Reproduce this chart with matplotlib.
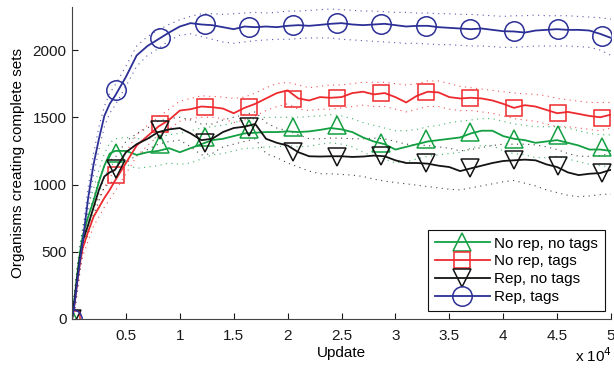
import matplotlib

matplotlib.use("Agg")
import matplotlib.pyplot as plt
from matplotlib.lines import Line2D

plt.rcParams["font.family"] = ["Liberation Sans", "DejaVu Sans"]

# sampling grid (updates)
updates = [0, 250, 500, 750, 1000, 1500, 2000, 2500, 3000, 3500] + list(range(4000, 50001, 1000))

# No rep, no tags
green_mean = [0, 160, 340, 500, 620, 760, 880, 1020, 1140, 1230,
              1250, 1250, 1220, 1240, 1250, 1270, 1240, 1270, 1300, 1330,
              1340, 1360, 1380, 1385, 1390, 1390, 1395, 1390, 1395, 1406,
              1420, 1410, 1390, 1350, 1320, 1300, 1260, 1280, 1300, 1320,
              1330, 1340, 1350, 1380, 1400, 1400, 1360, 1340, 1330, 1310,
              1320, 1330, 1310, 1290, 1260, 1260, 1250]
green_hi = [0, 220, 400, 560, 690, 840, 970, 1110, 1230, 1310,
            1340, 1350, 1340, 1340, 1350, 1370, 1380, 1400, 1420, 1430,
            1440, 1460, 1480, 1490, 1500, 1500, 1500, 1500, 1505, 1510,
            1520, 1510, 1490, 1460, 1440, 1420, 1400, 1400, 1410, 1430,
            1440, 1460, 1470, 1480, 1490, 1490, 1470, 1450, 1440, 1430,
            1430, 1430, 1420, 1400, 1380, 1370, 1370]
green_lo = [0, 100, 280, 440, 550, 680, 800, 930, 1050, 1140,
            1160, 1150, 1120, 1130, 1140, 1160, 1150, 1160, 1190, 1220,
            1230, 1250, 1270, 1270, 1280, 1280, 1290, 1280, 1285, 1300,
            1310, 1300, 1280, 1240, 1210, 1190, 1160, 1170, 1190, 1210,
            1220, 1230, 1240, 1270, 1290, 1290, 1250, 1230, 1220, 1200,
            1200, 1210, 1190, 1170, 1150, 1140, 1130]

# No rep, tags
red_mean = [0, 120, 280, 420, 530, 650, 760, 830, 900, 960,
            1030, 1160, 1290, 1360, 1430, 1480, 1550, 1560, 1580, 1575,
            1565, 1530, 1570, 1600, 1640, 1680, 1700, 1640, 1625, 1650,
            1645, 1650, 1680, 1690, 1670, 1680, 1650, 1610, 1660, 1690,
            1685, 1650, 1640, 1645, 1640, 1625, 1600, 1570, 1590, 1580,
            1555, 1530, 1540, 1525, 1510, 1500, 1520]
red_hi = [0, 180, 340, 470, 580, 720, 830, 900, 980, 1050,
          1110, 1240, 1370, 1440, 1500, 1560, 1620, 1640, 1660, 1655,
          1650, 1640, 1650, 1680, 1720, 1750, 1760, 1740, 1720, 1730,
          1740, 1740, 1750, 1760, 1760, 1760, 1750, 1740, 1750, 1770,
          1770, 1750, 1730, 1720, 1710, 1700, 1690, 1680, 1675, 1670,
          1660, 1640, 1630, 1620, 1610, 1610, 1610]
red_lo = [0, 60, 220, 360, 470, 580, 690, 760, 830, 890,
          950, 1080, 1210, 1290, 1360, 1410, 1470, 1490, 1500, 1500,
          1490, 1460, 1480, 1510, 1550, 1580, 1600, 1560, 1550, 1560,
          1560, 1570, 1580, 1590, 1580, 1580, 1560, 1540, 1560, 1580,
          1580, 1560, 1550, 1550, 1540, 1530, 1510, 1490, 1480, 1470,
          1450, 1430, 1430, 1420, 1410, 1400, 1420]

# Rep, no tags
black_mean = [0, 150, 320, 470, 580, 700, 830, 960, 1060, 1090,
              1110, 1240, 1300, 1340, 1390, 1410, 1420, 1380, 1330, 1340,
              1390, 1420, 1430, 1450, 1340, 1310, 1290, 1240, 1210, 1208,
              1210, 1210, 1205, 1208, 1215, 1210, 1180, 1160, 1160, 1155,
              1140, 1130, 1100, 1120, 1140, 1160, 1175, 1180, 1185, 1180,
              1150, 1130, 1090, 1070, 1080, 1085, 1110]
black_hi = [0, 210, 380, 530, 640, 770, 900, 1040, 1140, 1180,
            1200, 1320, 1380, 1420, 1470, 1490, 1500, 1480, 1450, 1450,
            1480, 1500, 1520, 1540, 1460, 1420, 1400, 1370, 1340, 1340,
            1345, 1345, 1340, 1340, 1345, 1340, 1320, 1300, 1295, 1290,
            1280, 1270, 1250, 1260, 1275, 1290, 1300, 1300, 1300, 1295,
            1280, 1260, 1230, 1210, 1210, 1215, 1230]
black_lo = [0, 90, 260, 410, 520, 630, 760, 880, 980, 1010,
            1030, 1160, 1220, 1260, 1300, 1320, 1330, 1280, 1220, 1230,
            1280, 1300, 1320, 1340, 1230, 1200, 1160, 1130, 1100, 1080,
            1080, 1075, 1070, 1060, 1040, 1025, 1015, 1005, 995, 985,
            975, 965, 960, 975, 990, 1005, 1020, 1030, 1010, 990,
            960, 940, 920, 910, 915, 925, 930]

# Rep, tags
blue_mean = [0, 120, 290, 440, 580, 900, 1150, 1340, 1510, 1600,
             1660, 1800, 1960, 2030, 2080, 2130, 2175, 2200, 2190, 2185,
             2170, 2155, 2175, 2170, 2175, 2170, 2180, 2185, 2180, 2187,
             2195, 2200, 2190, 2185, 2190, 2195, 2185, 2175, 2180, 2180,
             2170, 2165, 2160, 2155, 2160, 2150, 2140, 2138, 2130, 2145,
             2150, 2155, 2150, 2150, 2145, 2120, 2090]
blue_hi = [0, 200, 380, 520, 660, 980, 1230, 1430, 1580, 1680,
           1740, 1880, 2030, 2100, 2150, 2190, 2225, 2250, 2270, 2270,
           2265, 2270, 2275, 2280, 2275, 2280, 2290, 2290, 2295, 2300,
           2305, 2300, 2295, 2290, 2290, 2285, 2280, 2280, 2275, 2275,
           2270, 2270, 2265, 2265, 2260, 2255, 2250, 2255, 2255, 2260,
           2255, 2255, 2255, 2250, 2245, 2240, 2230]
blue_lo = [0, 60, 200, 360, 500, 820, 1070, 1260, 1430, 1530,
           1590, 1730, 1880, 1960, 2010, 2070, 2110, 2120, 2100, 2080,
           2060, 2050, 2060, 2070, 2075, 2080, 2080, 2085, 2090, 2090,
           2090, 2080, 2075, 2070, 2065, 2060, 2055, 2050, 2050, 2045,
           2040, 2040, 2035, 2030, 2030, 2025, 2020, 2020, 2025, 2030,
           2030, 2030, 2030, 2025, 2020, 2000, 1960]

# marker positions and values
marker_x = [0, 4100, 8200, 12300, 16400, 20500, 24600, 28700, 32800, 36900, 41000, 45100, 49200]
green_marks = [0, 1235, 1300, 1350, 1415, 1430, 1440, 1310, 1335, 1390, 1335, 1370, 1280]
red_marks = [0, 1070, 1450, 1580, 1580, 1635, 1645, 1680, 1690, 1645, 1570, 1530, 1495]
black_marks = [0, 1115, 1405, 1310, 1430, 1240, 1205, 1215, 1160, 1120, 1180, 1135, 1085]
blue_marks = [0, 1700, 2090, 2190, 2170, 2185, 2200, 2190, 2180, 2155, 2140, 2155, 2105]

labels = ["No rep, no tags", "No rep, tags", "Rep, no tags", "Rep, tags"]
colors = ["#12a043", "#ee2a2e", "#141414", "#2b2f96"]
markers = ["^", "s", "v", "o"]
msizes = [13, 12, 13, 14]

x_ticks = [0, 5000, 10000, 15000, 20000, 25000, 30000, 35000, 40000, 45000, 50000]
x_ticklabels = ["", "0.5", "1", "1.5", "2", "2.5", "3", "3.5", "4", "4.5", "5"]
y_ticks = [0, 500, 1000, 1500, 2000]

series = [
    (green_mean, green_hi, green_lo, green_marks),
    (red_mean, red_hi, red_lo, red_marks),
    (black_mean, black_hi, black_lo, black_marks),
    (blue_mean, blue_hi, blue_lo, blue_marks),
]

FS = 11

fig = plt.figure(figsize=(6.14, 3.71), dpi=100)
ax = fig.add_axes([72 / 614, 52 / 371, 539 / 614, 312 / 371])

for (mean, hi, lo, marks), col in zip(series, colors):
    ax.plot(updates, hi, color=col, lw=0.8, ls=(0, (1, 4)), alpha=0.8)
    ax.plot(updates, lo, color=col, lw=0.8, ls=(0, (1, 4)), alpha=0.8)

handles = []
for (mean, hi, lo, marks), col, mk, ms, lab in zip(series, colors, markers, msizes, labels):
    ax.plot(updates, mean, color=col, lw=1.3)
    ax.plot(marker_x, marks, ls="none", marker=mk, ms=ms, mfc="none", mec=col, mew=1.1)
    handles.append(Line2D([], [], color=col, lw=1.3, marker=mk, ms=ms, mfc="none", mec=col, mew=1.1, label=lab))

ax.set_xlim(0, 50000)
ax.set_ylim(0, 2320)
ax.set_xticks(x_ticks)
ax.set_xticklabels(x_ticklabels)
ax.set_yticks(y_ticks)
ax.tick_params(direction="in", length=4.5, width=0.8, labelsize=FS, colors="#1a1a1a")
ax.tick_params(axis="x", pad=7)
ax.tick_params(axis="y", pad=4)
for side in ["top", "right"]:
    ax.spines[side].set_visible(False)
for side in ["left", "bottom"]:
    ax.spines[side].set_color("#444")
    ax.spines[side].set_linewidth(0.8)
ax.set_xlabel("Update", fontsize=FS, labelpad=2)
ax.set_ylabel("Organisms creating complete sets", fontsize=FS, labelpad=5)
fig.text(612 / 614, 1 - 356 / 371, "x 10$^{4}$", fontsize=FS, ha="right", va="center")

leg = ax.legend(handles=handles, loc="lower right", bbox_to_anchor=(1 - 6 / 539, 8 / 312),
                fontsize=FS, handlelength=3.6, handletextpad=0.3, labelspacing=0.25,
                borderpad=0.45, borderaxespad=0, fancybox=False, framealpha=1)
leg.get_frame().set_edgecolor("#111")
leg.get_frame().set_linewidth(0.8)

fig.savefig("out.png", dpi=100)
